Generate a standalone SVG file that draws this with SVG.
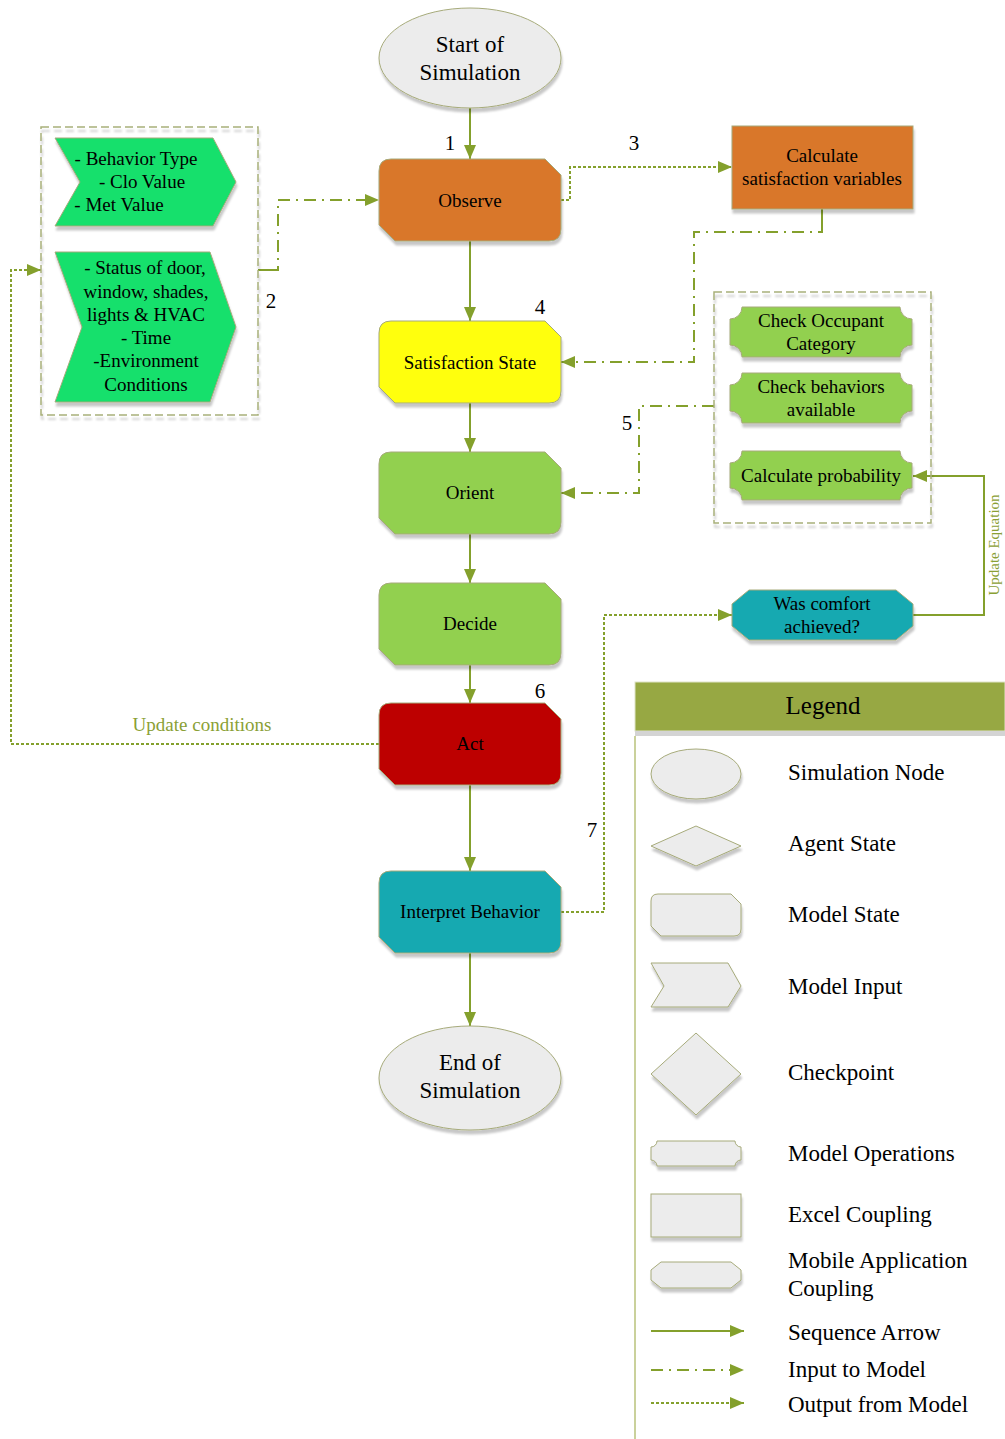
<svg xmlns="http://www.w3.org/2000/svg" width="1005" height="1439" viewBox="0 0 1005 1439">
<defs>
<filter id="sh" x="-10%" y="-10%" width="130%" height="140%">
<feDropShadow dx="1" dy="4" stdDeviation="1.2" flood-color="#000" flood-opacity="0.22"/>
</filter>
<marker id="ah" viewBox="0 0 14 12" refX="14" refY="6" markerWidth="14" markerHeight="12" markerUnits="userSpaceOnUse" orient="auto">
<path d="M0,0 L14,6 L0,12 Z" fill="#84a02c"/>
</marker>
</defs>
<style>
.n{stroke:#a6aa7a;stroke-width:1;filter:url(#sh)}
.t{font-family:"Liberation Serif","Times New Roman",serif;fill:#000;text-anchor:middle}
.s17{font-size:19px}
.s22{font-size:23px}
.lg{font-family:"Liberation Serif","Times New Roman",serif;font-size:23px;fill:#000}
.num{font-family:"Liberation Serif","Times New Roman",serif;font-size:21px;fill:#000;text-anchor:middle}
.c{fill:none;stroke:#84a02c;stroke-width:2}
.seq{marker-end:url(#ah)}
.dot{stroke-dasharray:3 2}
.dd{stroke-dasharray:12 6 2 6}
.grp{fill:none;stroke:#a8b07a;stroke-width:1.5;stroke-dasharray:8 4;filter:url(#sh)}
.ol{font-family:"Liberation Serif","Times New Roman",serif;fill:#8aa035}
.gray{fill:#ececec}
.orange{fill:#d9772b}
.green{fill:#92d050}
.bgreen{fill:#12e06c}
.teal{fill:#16a9b1}
.red{fill:#bd0000}
.yellow{fill:#ffff10}
</style>

<g id="connectors">
<line class="c seq" x1="470" y1="108" x2="470" y2="159"/>
<line class="c seq" x1="470" y1="241" x2="470" y2="321"/>
<line class="c seq" x1="470" y1="403" x2="470" y2="452"/>
<line class="c seq" x1="470" y1="534" x2="470" y2="583"/>
<line class="c seq" x1="470" y1="665" x2="470" y2="703"/>
<line class="c seq" x1="470" y1="785" x2="470" y2="871"/>
<line class="c seq" x1="470" y1="953" x2="470" y2="1026"/>
<polyline class="c dot seq" points="561,200 570,200 570,167 732,167"/>
<line class="c" x1="822" y1="209" x2="822" y2="224"/>
<polyline class="c dd seq" points="822,224 822,232 694,232 694,362 561,362"/>
<line class="c" x1="258" y1="270" x2="270" y2="270"/>
<polyline class="c dd seq" points="270,270 278,270 278,200 379,200"/>
<polyline class="c dd seq" points="714,406 639,406 639,493 561,493"/>
<polyline class="c dot seq" points="379,744 11,744 11,270 41,270"/>
<polyline class="c dot seq" points="561,912 604,912 604,615 732,615"/>
<polyline class="c seq" points="913,615 984,615 984,476 913,476"/>
</g>

<g id="labels">
<text class="num" x="450" y="150">1</text>
<text class="num" x="271" y="308">2</text>
<text class="num" x="634" y="150">3</text>
<text class="num" x="540" y="314">4</text>
<text class="num" x="627" y="430">5</text>
<text class="num" x="540" y="698">6</text>
<text class="num" x="592" y="837">7</text>
<text class="ol" x="202" y="731" font-size="19" text-anchor="middle">Update conditions</text>
<text class="ol" x="0" y="0" font-size="15" text-anchor="middle" transform="translate(999,545) rotate(-90)">Update Equation</text>
</g>

<g id="start">
<ellipse class="n gray" cx="470" cy="58" rx="91" ry="50"/>
<text class="t s22" x="470" y="52">Start of</text>
<text class="t s22" x="470" y="80">Simulation</text>
</g>

<g id="observe">
<path class="n orange" d="M391,159 L545,159 L561,175 L561,229 Q561,241 549,241 L395,241 L379,225 L379,171 Q379,159 391,159 Z"/>
<text class="t s17" x="470" y="207">Observe</text>
</g>

<g id="calc-sat">
<rect class="n orange" x="732" y="126" width="181" height="83"/>
<text class="t s17" x="822" y="162">Calculate</text>
<text class="t s17" x="822" y="185">satisfaction variables</text>
</g>

<g id="satisfaction">
<path class="n yellow" d="M391,321 L545,321 L561,337 L561,391 Q561,403 549,403 L395,403 L379,387 L379,333 Q379,321 391,321 Z"/>
<text class="t s17" x="470" y="369">Satisfaction State</text>
</g>

<g id="orient">
<path class="n green" d="M391,452 L545,452 L561,468 L561,522 Q561,534 549,534 L395,534 L379,518 L379,464 Q379,452 391,452 Z"/>
<text class="t s17" x="470" y="499">Orient</text>
</g>

<g id="decide">
<path class="n green" d="M391,583 L545,583 L561,599 L561,653 Q561,665 549,665 L395,665 L379,649 L379,595 Q379,583 391,583 Z"/>
<text class="t s17" x="470" y="630">Decide</text>
</g>

<g id="act">
<path class="n red" d="M391,703 L545,703 L561,719 L561,773 Q561,785 549,785 L395,785 L379,769 L379,715 Q379,703 391,703 Z"/>
<text class="t s17" x="470" y="750">Act</text>
</g>

<g id="interpret">
<path class="n teal" d="M391,871 L545,871 L561,887 L561,941 Q561,953 549,953 L395,953 L379,937 L379,883 Q379,871 391,871 Z"/>
<text class="t s17" x="470" y="918">Interpret Behavior</text>
</g>

<g id="end">
<ellipse class="n gray" cx="470" cy="1078" rx="91" ry="52"/>
<text class="t s22" x="470" y="1070">End of</text>
<text class="t s22" x="470" y="1098">Simulation</text>
</g>

<g id="inputs-group">
<rect class="grp" x="41" y="127" width="217" height="288"/>
<g id="input-behavior">
<polygon class="n bgreen" points="55,138 213,138 236,182 213,226 55,226 80,182"/>
<text class="t s17" x="136" y="165">- Behavior Type</text>
<text class="t s17" x="142" y="188">- Clo Value</text>
<text class="t s17" x="119" y="211">- Met Value</text>
</g>
<g id="input-status">
<polygon class="n bgreen" points="55,252 210,252 236,327 210,402 55,402 82,327"/>
<text class="t s17" x="145" y="274">- Status of door,</text>
<text class="t s17" x="146" y="298">window, shades,</text>
<text class="t s17" x="146" y="321">lights &amp; HVAC</text>
<text class="t s17" x="146" y="344">- Time</text>
<text class="t s17" x="146" y="367">-Environment</text>
<text class="t s17" x="146" y="391">Conditions</text>
</g>
</g>

<g id="operations-group">
<rect class="grp" x="714" y="292" width="217" height="231"/>
<g id="check-occupant">
<path class="n green" d="M742,307 L900,307 A12,12 0 0 0 912,319 L912,345 A12,12 0 0 0 900,357 L742,357 A12,12 0 0 0 730,345 L730,319 A12,12 0 0 0 742,307 Z"/>
<text class="t s17" x="821" y="327">Check Occupant</text>
<text class="t s17" x="821" y="350">Category</text>
</g>
<g id="check-behaviors">
<path class="n green" d="M742,373 L900,373 A12,12 0 0 0 912,385 L912,411 A12,12 0 0 0 900,423 L742,423 A12,12 0 0 0 730,411 L730,385 A12,12 0 0 0 742,373 Z"/>
<text class="t s17" x="821" y="393">Check behaviors</text>
<text class="t s17" x="821" y="416">available</text>
</g>
<g id="calc-prob">
<path class="n green" d="M742,451 L900,451 A12,12 0 0 0 912,463 L912,488 A12,12 0 0 0 900,500 L742,500 A12,12 0 0 0 730,488 L730,463 A12,12 0 0 0 742,451 Z"/>
<text class="t s17" x="821" y="482">Calculate probability</text>
</g>
</g>

<g id="comfort">
<path class="n teal" d="M749,590 L896,590 L913,604 L913,626 L896,640 L749,640 L732,626 L732,604 Z"/>
<text class="t s17" x="822" y="610">Was comfort</text>
<text class="t s17" x="822" y="633">achieved?</text>
</g>

<g id="legend">
<rect x="635" y="682" width="370" height="49" fill="#97a843" stroke="#dfe3c8" stroke-width="1"/>
<rect x="635" y="731" width="370" height="5" fill="#d4d4d4"/>
<line x1="635" y1="736" x2="635" y2="1439" stroke="#b8c27a" stroke-width="1.5"/>
<text class="t" font-size="25" x="823" y="714">Legend</text>

<ellipse class="n gray" cx="696" cy="774" rx="45" ry="25"/>
<text class="lg" x="788" y="780">Simulation Node</text>

<polygon class="n gray" points="651,846 696,826 741,846 696,866"/>
<text class="lg" x="788" y="851">Agent State</text>

<path class="n gray" d="M658,894 L731,894 L741,904 L741,929 Q741,936 734,936 L661,936 L651,926 L651,901 Q651,894 658,894 Z"/>
<text class="lg" x="788" y="922">Model State</text>

<polygon class="n gray" points="651,963 728,963 741,986 728,1007 651,1007 664,986"/>
<text class="lg" x="788" y="994">Model Input</text>

<polygon class="n gray" points="696,1033 741,1074 696,1115 651,1074"/>
<text class="lg" x="788" y="1080">Checkpoint</text>

<path class="n gray" d="M657,1141 L735,1141 A6,6 0 0 0 741,1147 L741,1160 A6,6 0 0 0 735,1166 L657,1166 A6,6 0 0 0 651,1160 L651,1147 A6,6 0 0 0 657,1141 Z"/>
<text class="lg" x="788" y="1161">Model Operations</text>

<rect class="n gray" x="651" y="1194" width="90" height="43"/>
<text class="lg" x="788" y="1222">Excel Coupling</text>

<path class="n gray" d="M661,1262 L731,1262 L741,1270 L741,1280 L731,1288 L661,1288 L651,1280 L651,1270 Z"/>
<text class="lg" x="788" y="1268">Mobile Application</text>
<text class="lg" x="788" y="1296">Coupling</text>

<line class="c seq" x1="651" y1="1331" x2="744" y2="1331"/>
<text class="lg" x="788" y="1340">Sequence Arrow</text>
<line class="c dd seq" x1="651" y1="1370" x2="744" y2="1370"/>
<text class="lg" x="788" y="1377">Input to Model</text>
<line class="c dot seq" x1="651" y1="1403" x2="744" y2="1403"/>
<text class="lg" x="788" y="1412">Output from Model</text>
</g>
</svg>
